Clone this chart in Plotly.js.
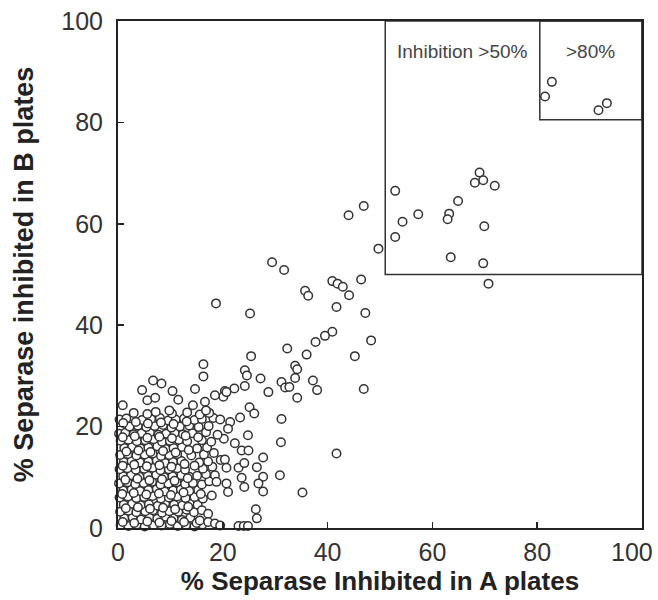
<!DOCTYPE html>
<html>
<head>
<meta charset="utf-8">
<script src="https://cdn.plot.ly/plotly-3.0.1.min.js"></script>
<style>html,body{margin:0;padding:0;background:#fff;}#chart{width:658px;height:600px;}</style>
</head>
<body>
<div id="chart"></div>
<script>
// Dense low-inhibition cluster (% inhibited in A plates, % inhibited in B plates)
const clusterA = [
0.5,2.0,3.6,5.1,6.8,8.3,9.9,11.4,13.0,14.6,16.1,
1.2,2.8,4.4,6.0,7.5,9.1,10.6,12.2,13.8,
0.4,2.0,3.5,5.2,6.7,8.4,9.8,11.5,13.1,14.5,
1.1,2.7,4.3,5.9,7.6,9.0,10.7,12.3,13.7,15.2,
0.3,1.9,3.5,5.0,6.6,8.2,9.7,11.3,12.9,14.6,16.2,17.9,
1.0,2.6,4.2,5.8,7.4,8.9,10.5,12.0,13.6,15.3,
0.2,1.8,3.3,4.9,6.5,8.1,9.6,11.2,12.8,14.3,16.0,17.4,
1.0,2.5,4.1,5.7,7.3,8.8,10.4,12.1,13.6,15.1,16.8,
0.3,1.8,3.4,5.0,6.6,8.1,9.7,11.3,12.8,16.2,18.0,
1.1,2.6,4.2,5.8,7.4,9.0,10.5,12.1,15.5,17.2,19.6,
0.4,1.9,3.5,5.1,6.6,8.2,9.8,11.3,14.0,16.4,18.3,
1.2,2.7,4.3,5.8,7.5,9.1,10.6,12.2,15.1,17.0,
0.5,2.0,3.6,5.2,6.8,8.4,9.9,11.6,13.2,16.0,17.8,20.2,
0.2,1.4,3.0,4.5,6.1,7.7,9.2,10.8,12.4,14.2,16.8,19.0,
2.2,3.8,5.4,7.0,8.6,10.2,11.8,13.6,15.4,17.3,
0.3,1.6,4.6,6.3,8.0,9.6,11.0,12.6,14.6,16.0,18.2,
3.0,5.6,7.2,10.3,13.2,15.6,17.4
];
const clusterB = [
0.6,0.4,0.7,0.3,0.6,0.5,0.8,0.4,0.6,0.3,0.7,
1.9,2.1,1.7,2.0,1.8,2.2,1.9,1.6,2.0,
3.2,3.4,3.1,3.3,3.5,3.0,3.3,3.2,3.6,3.1,
4.6,4.8,4.5,4.7,4.4,4.9,4.6,4.5,4.8,4.6,
6.0,6.2,5.9,6.1,6.3,5.8,6.0,6.2,5.9,6.1,5.8,6.4,
7.4,7.6,7.3,7.5,7.7,7.2,7.4,7.6,7.3,7.5,
8.8,9.0,8.7,8.9,9.1,8.6,8.8,9.0,8.7,8.9,8.6,9.2,
10.2,10.4,10.1,10.3,10.5,10.0,10.2,10.4,10.1,10.3,10.6,
11.6,11.8,11.5,11.7,11.9,11.4,11.6,11.8,11.5,11.7,12.1,
13.0,13.2,12.9,13.1,13.3,12.8,13.0,13.2,12.9,13.1,13.4,
14.4,14.6,14.3,14.5,14.7,14.2,14.4,14.6,14.3,14.5,14.8,
15.8,16.0,15.7,15.9,16.1,15.6,15.8,16.0,15.7,15.9,
17.2,17.4,17.1,17.3,17.5,17.0,17.2,17.4,17.1,17.3,17.0,17.6,
18.6,18.8,18.5,18.7,18.9,18.4,18.6,18.8,18.5,18.7,18.9,18.4,
20.0,20.2,19.9,20.1,20.3,19.8,20.0,20.2,19.9,20.1,
21.4,21.6,21.3,21.5,21.7,21.2,21.4,21.6,21.3,21.5,21.7,
22.7,22.5,22.9,22.6,22.8,22.4,22.7
];
// Overlapping compounds in the core of the cluster
const coreA = [
0.9,3.1,5.6,7.9,10.2,12.6,15.0,
1.5,3.8,6.1,8.6,10.9,13.4,
0.8,3.0,5.4,7.8,10.1,12.5,15.8,
1.4,3.7,6.0,8.4,10.8,13.3,
0.9,3.1,5.5,7.9,10.2,12.7,14.6,
1.6,3.9,6.2,8.6,11.0,13.5,
0.9,3.2,5.6,7.9,10.3,12.9,15.3,
1.0,3.4,5.7,8.2,10.6,13.1
];
const coreB = [
1.2,1.0,1.3,1.1,1.4,1.2,1.0,
3.9,4.1,3.8,4.0,3.7,4.2,
6.7,6.9,6.6,6.8,6.5,7.0,6.7,
9.5,9.7,9.4,9.6,9.3,9.8,
12.3,12.5,12.2,12.4,12.1,12.6,12.3,
15.1,15.3,15.0,15.2,14.9,15.4,
17.9,18.1,17.8,18.0,17.7,18.2,17.9,
20.7,20.9,20.6,20.8,20.5,21.0
];
// Scattered compounds around the cluster
const fringeA = [16.3,16.3,24.2,24.6,27.2,6.7,8.3,4.6,24.2,14.7,10.4,22.2,20.4,20.1,18.5,28.7,5.6,7.1,11.5,14.3,16.6,16.8,0.9,25.1,26.0,9.8,24.8,26.3,26.5,23.0,24.0,24.8,
20.7,19.5,21.4,21.0,23.3,22.3,23.6,24.9,27.7,26.5,20.4,20.7,23.0,24.1,27.7,26.8,27.7,23.6,24.1,18.5,18.8,20.7,21.0,16.0,17.2,15.6,17.2,18.5,19.5];
const fringeB = [32.3,29.9,31.1,30.1,29.5,29.1,28.5,27.2,28.0,27.4,27.0,27.5,27.0,25.9,26.2,26.8,25.2,25.7,25.3,24.2,24.9,23.2,24.2,23.8,22.6,23.2,18.3,3.7,1.9,0.4,0.4,0.4,
26.8,21.4,20.9,19.6,21.8,16.7,15.3,15.3,13.9,12.0,13.5,11.9,11.9,12.8,10.1,8.8,7.2,9.9,8.1,10.4,9.1,8.8,7.1,3.5,2.8,1.5,1.2,0.9,0.5];
// Higher-inhibition compounds
const upperA = [82.8,81.5,93.3,91.7,52.9,69.0,68.1,69.7,71.9,64.9,57.3,54.3,63.2,62.9,69.9,52.9,63.5,69.7,70.7,49.7,
44.0,46.9,29.4,31.7,40.9,41.9,42.9,44.1,46.4,35.7,36.3,41.7,47.2,40.9,39.5,37.7,48.3,32.3,36.0,45.2,33.8,34.2,33.8,31.2,31.9,32.7,37.2,38.0,34.2,46.9,31.2,31.1,41.7,30.9,35.2,18.7,25.2,25.4];
const upperB = [88.0,85.1,83.8,82.4,66.5,70.1,68.1,68.6,67.5,64.5,61.9,60.4,62.0,60.9,59.5,57.4,53.4,52.2,48.2,55.1,
61.7,63.5,52.4,50.9,48.7,48.2,47.6,45.9,49.0,46.8,45.8,43.6,42.4,38.7,37.9,36.7,37.0,35.4,34.2,33.9,32.0,31.3,29.6,28.8,27.7,27.8,29.1,27.2,25.7,27.4,21.5,16.9,14.7,10.4,7.0,44.3,42.3,33.9];

const tickValues = [0,20,40,60,80,100];
const xTickLabels = ['0','20','40','60','80',''];
const yTickLabels = ['0','20','40','60','80','100'];
const lastXLabel = '100';

const xs = clusterA.concat(coreA, fringeA, upperA);
const ys = clusterB.concat(coreB, fringeB, upperB);

const tickFont = {family: 'Liberation Sans, Arial, sans-serif', size: 25, color: '#333'};
const axisBase = {
  range: [0, 100],
  tickvals: tickValues,
  ticks: 'inside',
  ticklen: 6,
  tickwidth: 1.5,
  tickcolor: '#222',
  showline: true,
  linewidth: 2,
  linecolor: '#222',
  mirror: true,
  showgrid: false,
  zeroline: false,
  tickfont: tickFont
};

const layout = {
  width: 658, height: 600,
  margin: {l: 118, r: 16, t: 21, b: 72},
  paper_bgcolor: '#fff', plot_bgcolor: '#fff',
  showlegend: false,
  xaxis: Object.assign({}, axisBase, {
    ticktext: xTickLabels,
    ticklabelstandoff: 1,
    title: {text: '% Separase Inhibited in A plates', standoff: 5,
      font: {family: 'Liberation Sans, Arial, sans-serif', size: 26, weight: 'bold', color: '#222'}}
  }),
  yaxis: Object.assign({}, axisBase, {
    ticktext: yTickLabels,
    ticklabelstandoff: 8,
    title: {text: '% Separase inhibited in B plates', standoff: 20,
      font: {family: 'Liberation Sans, Arial, sans-serif', size: 27, weight: 'bold', color: '#222'}}
  }),
  shapes: [
    {type: 'rect', xref: 'x', yref: 'y', x0: 51, x1: 100, y0: 50, y1: 100, line: {color: '#333', width: 1.5}, fillcolor: 'rgba(0,0,0,0)'},
    {type: 'rect', xref: 'x', yref: 'y', x0: 80.5, x1: 100, y0: 80.5, y1: 100, line: {color: '#333', width: 1.5}, fillcolor: 'rgba(0,0,0,0)'}
  ],
  annotations: [
    {x: 65.8, y: 94, xref: 'x', yref: 'y', text: 'Inhibition >50%', showarrow: false,
      font: {family: 'Liberation Sans, Arial, sans-serif', size: 19, color: '#444'}},
    {x: 90.2, y: 94, xref: 'x', yref: 'y', text: '>80%', showarrow: false,
      font: {family: 'Liberation Sans, Arial, sans-serif', size: 19, color: '#444'}},
    {x: 100, y: 0, xref: 'x', yref: 'y', text: lastXLabel, showarrow: false,
      xanchor: 'center', yanchor: 'top', xshift: -10, yshift: -8, font: tickFont}
  ]
};

Plotly.newPlot('chart', [{
  type: 'scatter', mode: 'markers', x: xs, y: ys, cliponaxis: false,
  marker: {symbol: 'circle', size: 8.5, color: '#fff', line: {color: '#333', width: 1.5}},
  hoverinfo: 'skip'
}], layout, {displayModeBar: false, staticPlot: true});
</script>
</body>
</html>
